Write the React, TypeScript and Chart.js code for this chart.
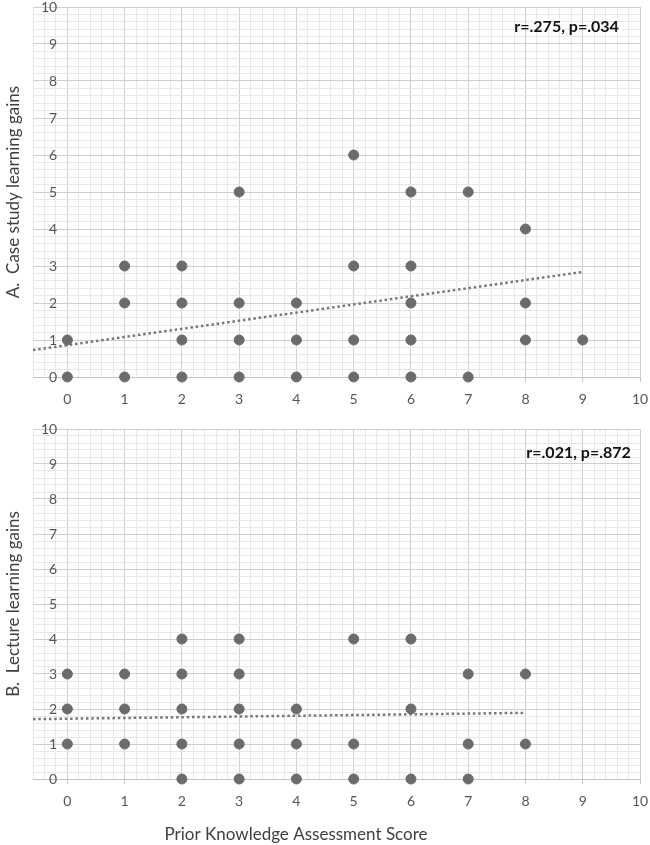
import React, { useEffect, useRef } from "react";
import { Chart, registerables } from "chart.js";

Chart.register(...registerables);

// ---- data ----
const xTickLabels = ["0", "1", "2", "3", "4", "5", "6", "7", "8", "9", "10"];
const yTickLabels = ["0", "1", "2", "3", "4", "5", "6", "7", "8", "9", "10"];

const caseX = [0, 0, 1, 1, 1, 2, 2, 2, 2, 3, 3, 3, 3, 4, 4, 4, 5, 5, 5, 5, 6, 6, 6, 6, 6, 7, 7, 8, 8, 8, 9];
const caseY = [0, 1, 0, 2, 3, 0, 1, 2, 3, 0, 1, 2, 5, 0, 1, 2, 0, 1, 3, 6, 0, 1, 2, 3, 5, 0, 5, 1, 2, 4, 1];
const caseTrendX = [-0.6, 9];
const caseTrendY = [0.73, 2.84];

const lectureX = [0, 0, 0, 1, 1, 1, 2, 2, 2, 2, 2, 3, 3, 3, 3, 3, 4, 4, 4, 5, 5, 5, 6, 6, 6, 7, 7, 7, 8, 8];
const lectureY = [1, 2, 3, 1, 2, 3, 0, 1, 2, 3, 4, 0, 1, 2, 3, 4, 0, 1, 2, 0, 1, 4, 0, 2, 4, 0, 1, 3, 1, 3];
const lectureTrendX = [-0.6, 8];
const lectureTrendY = [1.71, 1.89];

const caseTitle = "A.  Case study learning gains";
const lectureTitle = "B.  Lecture learning gains";
const xTitle = "Prior Knowledge Assessment Score";
const caseNote = "r=.275, p=.034";
const lectureNote = "r=.021, p=.872";

// ---- styling ----
const FONT = "Lato, 'Open Sans', sans-serif";
const MAJOR = "#cfcfcf";
const MINOR = "#e8e8e8";
const DOT = "#6b6b6b";

const isMajor = (v: number) => Math.abs(v - Math.round(v)) < 1e-6;

const noteTextPlugin = {
  id: "corrNote",
  afterDatasetsDraw(chart: any, _args: any, opts: any) {
    const { ctx, scales } = chart;
    const px = scales.x.getPixelForValue(opts.x);
    const py = scales.y.getPixelForValue(opts.y);
    ctx.save();
    ctx.font = `bold ${opts.size}px ${FONT}`;
    ctx.fillStyle = "#111111";
    ctx.textAlign = "right";
    ctx.textBaseline = "middle";
    ctx.fillText(opts.text, px, py);
    if (opts.xTitle) {
      ctx.font = `17px ${FONT}`;
      ctx.fillStyle = "#404040";
      ctx.textAlign = "center";
      ctx.fillText(opts.xTitle, opts.xTitleX, opts.xTitleY);
    }
    ctx.restore();
  },
};

type PanelProps = {
  xs: number[];
  ys: number[];
  tx: number[];
  ty: number[];
  yTitle: string;
  note: string;
  noteX: number;
  noteY: number;
  showXTitle: boolean;
  width: number;
  height: number;
  padTop: number;
  xAxisHeight: number;
};

function Panel(p: PanelProps) {
  const ref = useRef<HTMLCanvasElement | null>(null);
  useEffect(() => {
    if (!ref.current) return;
    const points = p.xs.map((x, i) => ({ x, y: p.ys[i] }));
    const trend = p.tx.map((x, i) => ({ x, y: p.ty[i] }));
    const label = (labels: string[]) => (v: any) => {
      const n = Number(v);
      if (!isMajor(n) || n < 0) return "";
      const idx = Math.round(n);
      return labels[idx] ?? "";
    };
    const zeroPad = (s: any) => {
      s.paddingTop = 0;
      s.paddingBottom = 0;
      s.paddingLeft = 0;
      s.paddingRight = 0;
    };
    const chart = new Chart(ref.current, {
      type: "scatter",
      data: {
        datasets: [
          {
            data: trend,
            showLine: true,
            borderColor: "#777777",
            borderWidth: 2.5,
            borderDash: [2.5, 2.8],
            pointRadius: 0,
            fill: false,
            clip: false as any,
            order: 2,
          },
          {
            data: points,
            backgroundColor: DOT,
            borderColor: DOT,
            borderWidth: 1,
            pointRadius: 5,
            clip: false as any,
            order: 1,
          },
        ],
      },
      options: {
        responsive: false,
        animation: false,
        devicePixelRatio: 1,
        layout: { padding: { top: p.padTop, right: 10, left: 0, bottom: 0 } },
        plugins: {
          legend: { display: false },
          tooltip: { enabled: false },
          corrNote: {
            text: p.note,
            x: p.noteX,
            y: p.noteY,
            size: 16,
            xTitle: p.showXTitle ? xTitle : "",
            xTitleX: 296,
            xTitleY: p.height - 10,
          },
        } as any,
        scales: {
          x: {
            type: "linear",
            min: -0.6,
            max: 10,
            afterFit: (s: any) => {
              s.height = p.xAxisHeight;
              zeroPad(s);
            },
            ticks: {
              stepSize: 0.2,
              autoSkip: false,
              maxRotation: 0,
              padding: 9,
              color: "#555555",
              font: { family: FONT, size: 14 },
              callback: label(xTickLabels),
            },
            grid: {
              color: (c: any) => (isMajor(c.tick?.value ?? 0.5) ? MAJOR : MINOR),
              tickColor: (c: any) => (isMajor(c.tick?.value ?? 0.5) ? "#c4c4c4" : "rgba(0,0,0,0)"),
              tickLength: 5,
              lineWidth: 1,
            },
            border: { display: true, color: "#c4c4c4" },
          },
          y: {
            type: "linear",
            min: 0,
            max: 10,
            afterFit: (s: any) => {
              s.width = 33;
              zeroPad(s);
            },
            ticks: {
              stepSize: 0.2,
              autoSkip: false,
              mirror: true,
              crossAlign: "far",
              padding: 8,
              color: "#555555",
              font: { family: FONT, size: 14 },
              callback: label(yTickLabels),
            },
            grid: {
              color: (c: any) => (isMajor(c.tick?.value ?? 0.5) ? MAJOR : MINOR),
              drawTicks: false,
              lineWidth: 1,
            },
            border: { display: false },
            title: {
              display: true,
              text: p.yTitle,
              color: "#404040",
              font: { family: FONT, size: 17 },
              padding: { top: 3, bottom: 0 },
            },
          },
        },
      },
      plugins: [noteTextPlugin as any],
    });
    return () => chart.destroy();
  }, []);
  return <canvas ref={ref} width={p.width} height={p.height} style={{ display: "block" }} />;
}

export default function App() {
  return (
    <div style={{ position: "absolute", left: 0, top: 0, width: 650, height: 845, background: "#fff" }}>
      <Panel
        xs={caseX}
        ys={caseY}
        tx={caseTrendX}
        ty={caseTrendY}
        yTitle={caseTitle}
        note={caseNote}
        noteX={9.63}
        noteY={9.46}
        showXTitle={false}
        width={650}
        height={418}
        padTop={7}
        xAxisHeight={41}
      />
      <Panel
        xs={lectureX}
        ys={lectureY}
        tx={lectureTrendX}
        ty={lectureTrendY}
        yTitle={lectureTitle}
        note={lectureNote}
        noteX={9.84}
        noteY={9.31}
        showXTitle={true}
        width={650}
        height={427}
        padTop={11}
        xAxisHeight={66}
      />
    </div>
  );
}
